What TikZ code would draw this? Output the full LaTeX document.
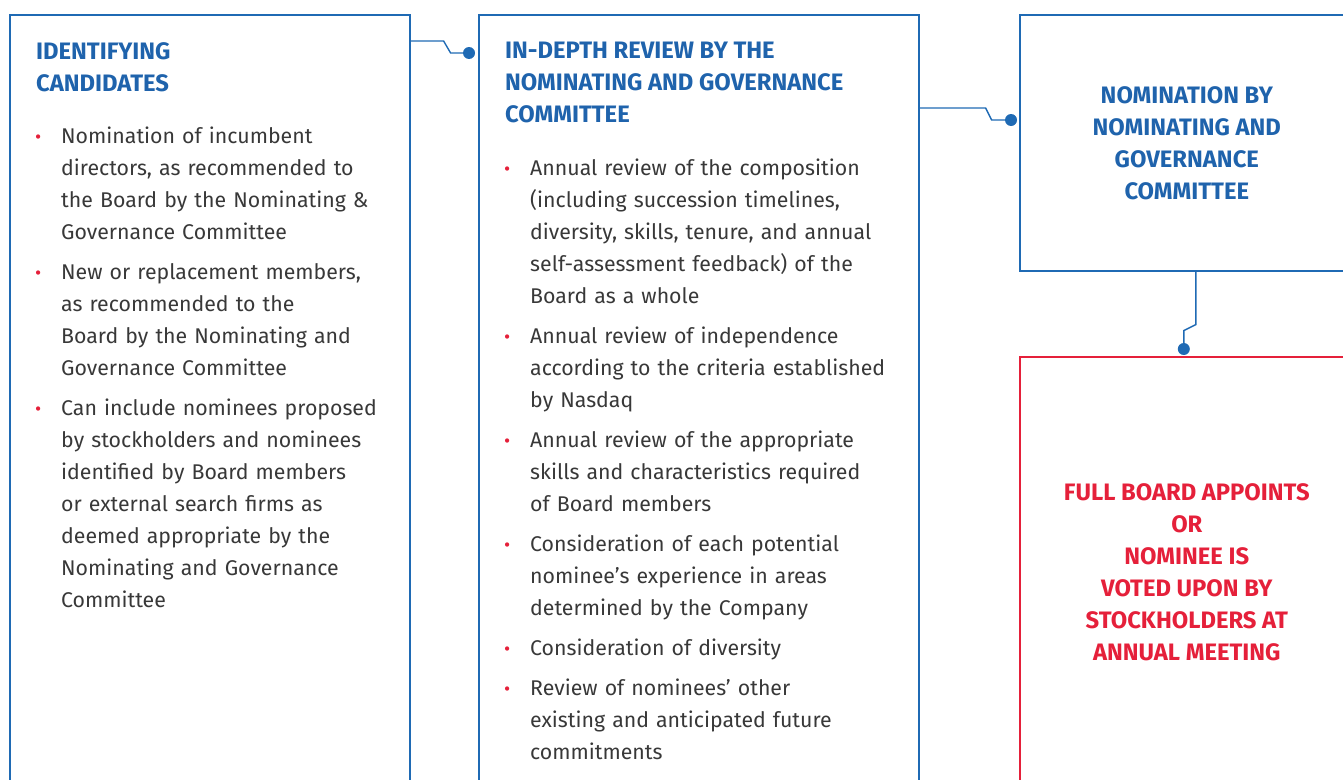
\documentclass[tikz,border=0pt]{standalone}
\usepackage{fontspec}
\setmainfont{Fira Sans}
\usetikzlibrary{positioning, calc}

\definecolor{boxblue}{HTML}{1F6AB4}
\definecolor{headblue}{HTML}{1F63AC}
\definecolor{alertred}{HTML}{E5203A}
\definecolor{bodygray}{HTML}{383838}

% bullet item with hanging indent
\newcommand{\bmark}{\noindent\hangindent=26pt\hangafter=1%
  \makebox[26pt][l]{\textcolor{alertred}{\fontsize{19}{19}\selectfont\textbullet}}}
\newcommand{\bitem}{\par\bmark}

\begin{document}
\begin{tikzpicture}[
    x=1pt, y=-1pt,
    box/.style={rectangle, draw=#1, line width=1.6pt, anchor=north west,
                inner sep=0pt},
    head/.style={inner sep=0pt, text=headblue,
                 font=\fontsize{23.8}{32}\selectfont\bfseries},
    bodylist/.style={anchor=north west, inner sep=0pt, text width=#1,
                     text=bodygray, font=\fontsize{21.3}{32}\selectfont},
    link/.style={draw=boxblue, line width=1.4pt},
    dot/.style={circle, fill=boxblue, inner sep=0pt, minimum size=12pt},
]
    \clip (0,0) rectangle (1343,779);

    % Boxes
    \node[box=boxblue, minimum width=400pt, minimum height=800pt] (ident) at (9,14) {};
    \node[box=boxblue, minimum width=440pt, minimum height=800pt] (review) at (478,14) {};
    \node[box=boxblue, minimum width=334pt, minimum height=256pt] (nomin) at (1019,14) {};
    \node[box=alertred, minimum width=334pt, minimum height=430pt] (board) at (1019,356) {};

    % Headings
    \node[head, anchor=north west, align=left] (identhead) at (36,42)
        {IDENTIFYING\\CANDIDATES};
    \node[head, anchor=north west, align=left] (reviewhead) at (505,42)
        {IN-DEPTH REVIEW BY THE\\NOMINATING AND GOVERNANCE\\COMMITTEE};
    \node[head, align=center] (nominhead) at (nomin.center)
        {NOMINATION BY\\NOMINATING AND\\GOVERNANCE\\COMMITTEE};
    \node[head, align=center, text=alertred] (boardhead) at (board.center)
        {FULL BOARD APPOINTS\\OR\\NOMINEE IS\\VOTED UPON BY\\STOCKHOLDERS AT\\ANNUAL MEETING};

    % Lists
    \node[bodylist=370pt] (identlist) at (35,127) {\raggedright\setlength{\parskip}{8pt}%
        \bmark Nomination of incumbent\newline directors, as recommended to\newline the Board by the Nominating \&\newline Governance Committee
        \bitem New or replacement members,\newline as recommended to the\newline Board by the Nominating and\newline Governance Committee
        \bitem Can include nominees proposed\newline by stockholders and nominees\newline identified by Board members\newline or external search firms as\newline deemed appropriate by the\newline Nominating and Governance\newline Committee\par};
    \node[bodylist=420pt] (reviewlist) at (504,159) {\raggedright\setlength{\parskip}{8pt}%
        \bmark Annual review of the composition\newline (including succession timelines,\newline diversity, skills, tenure, and annual\newline self-assessment feedback) of the\newline Board as a whole
        \bitem Annual review of independence\newline according to the criteria established\newline by Nasdaq
        \bitem Annual review of the appropriate\newline skills and characteristics required\newline of Board members
        \bitem Consideration of each potential\newline nominee's experience in areas\newline determined by the Company
        \bitem Consideration of diversity
        \bitem Review of nominees' other\newline existing and anticipated future\newline commitments\par};

    % Connectors
    \node[dot] (dotA) at ($(review.north west)+(-9,39)$) {};
    \draw[link] ($(ident.north east)+(0,27)$) -- ++(33,0) -- ++(7,12) -- (dotA);
    \node[dot] (dotB) at ($(nomin.north west)+(-8,106)$) {};
    \draw[link] ($(review.north east)+(0,94)$) -- ++(66,0) -- ++(6,12) -- (dotB);
    \node[dot] (dotC) at ($(board.north)+(-3,-7)$) {};
    \draw[link] ($(nomin.south)+(9,0)$) -- ++(0,53) -- ++(-12,6) -- (dotC);
\end{tikzpicture}
\end{document}
